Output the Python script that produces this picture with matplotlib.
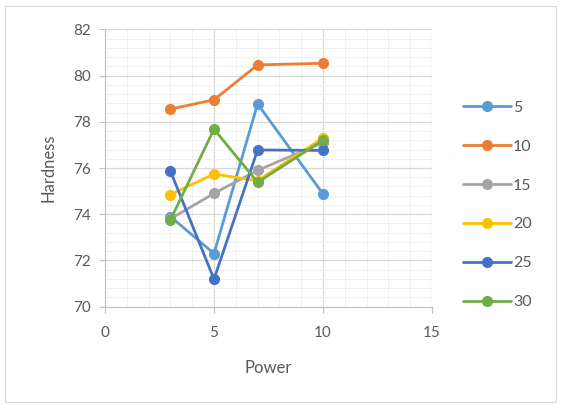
import matplotlib
matplotlib.use("Agg")
import matplotlib.pyplot as plt
from matplotlib.ticker import MultipleLocator
from matplotlib.patches import Rectangle

power = [3, 5, 7, 10]
series_names = ["5", "10", "15", "20", "25", "30"]
h5 = [73.9, 72.3, 78.77, 74.88]
h10 = [78.55, 78.95, 80.46, 80.53]
h15 = [73.8, 74.9, 75.9, 77.1]
h20 = [74.85, 75.74, 75.45, 77.3]
h25 = [75.87, 71.19, 76.78, 76.76]
h30 = [73.75, 77.68, 75.38, 77.2]
colors = ["#5B9BD5", "#ED7D31", "#A5A5A5", "#FFC000", "#4472C4", "#70AD47"]

plt.rcParams["font.family"] = ["Lato", "DejaVu Sans"]
text_color = "#595959"

fig = plt.figure(figsize=(5.63, 4.05), dpi=100)
fig.patches.append(Rectangle((5 / 563, 3 / 405), 551 / 563, 396 / 405,
                             transform=fig.transFigure, fill=False,
                             edgecolor="#D9D9D9", linewidth=0.8))
ax = fig.add_axes([105 / 563, 1 - 306.7 / 405, 327 / 563, 277.4 / 405])

for name, vals, c in zip(series_names, [h5, h10, h15, h20, h25, h30], colors):
    ax.plot(power, vals, color=c, linewidth=2.0, marker="o", markersize=7,
            label=name, solid_capstyle="round")

ax.set_xlim(0, 15)
ax.set_ylim(70, 82)
ax.xaxis.set_major_locator(MultipleLocator(5))
ax.xaxis.set_minor_locator(MultipleLocator(1))
ax.yaxis.set_major_locator(MultipleLocator(2))
ax.yaxis.set_minor_locator(MultipleLocator(0.4))
ax.grid(which="major", color="#D9D9D9", linewidth=0.9)
ax.grid(which="minor", color="#F0F0F0", linewidth=0.7)
ax.set_axisbelow(True)
for s in ["top", "right"]:
    ax.spines[s].set_visible(False)
for s in ["left", "bottom"]:
    ax.spines[s].set_color("#BFBFBF")
ax.tick_params(which="both", length=0, colors=text_color, labelsize=11)
ax.tick_params(which="major", length=4, color="#BFBFBF")
ax.tick_params(axis="x", which="major", pad=10)
ax.tick_params(axis="y", which="major", pad=6)

ax.set_xlabel("Power", color=text_color, fontsize=12, labelpad=14)
ax.set_ylabel("Hardness", color=text_color, fontsize=12, labelpad=12)

leg = ax.legend(loc="center left", bbox_to_anchor=(1.05, 0.367), frameon=False,
                fontsize=11.5, labelspacing=1.55, handlelength=3.0,
                handletextpad=0.15, labelcolor=text_color)

fig.savefig("out.png", dpi=100)
